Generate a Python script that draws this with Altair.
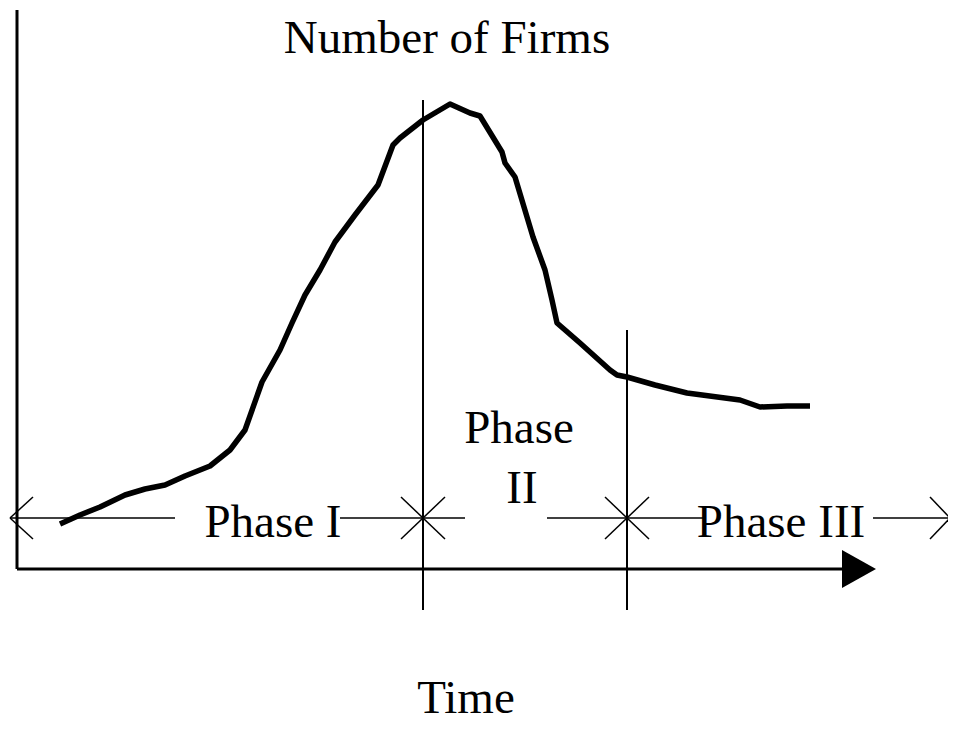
import altair as alt
import pandas as pd

# ---- data (x = time units, y = number-of-firms units) ----
curve_time = [60, 80, 100, 125, 145, 165, 185, 210, 230, 245, 262, 280, 292, 305, 320,
              335, 355, 378, 393, 400, 423, 450, 470, 480, 502, 505, 515, 533, 545, 552,
              557, 580, 610, 617, 627, 655, 687, 740, 760, 787, 810]
curve_firms = [208, 217, 225, 237, 243, 247, 256, 266, 282, 302, 350, 382, 409, 437, 462,
               490, 517, 547, 587, 594, 612, 628, 619, 616, 580, 569, 555, 495, 462, 432,
               409, 389, 362, 357, 355, 347, 339, 332, 325, 326, 326]

# phase boundaries and their vertical extents
boundary_time = [423, 627]
boundary_top = [632, 402]
boundary_bottom = [122, 122]

# axes
axis_origin = (17, 163)
axis_x_end = 845
axis_y_end = 722
arrow_head_time = [842, 876]
arrow_head_upper = [182, 163]
arrow_head_lower = [144, 163]

# phase span line (y level) and its pieces
span_level = 214
span_pieces = [(10, 175), (340, 465), (547, 703), (873, 950)]
span_ends = [10, 950]
arrow_len = 23
arrow_half = 21
cross_half = 22

labels = ["Number of Firms", "Phase", "II", "Phase I", "Phase III", "Time"]
label_time = [447, 519, 522, 273, 781, 466]
label_firms = [679, 289, 229, 195, 195, 19]

# ---- build segment table ----
segs = []
def seg(x1, y1, x2, y2, w):
    segs.append(dict(x=x1, y=y1, x2=x2, y2=y2, w=w))

# axes
seg(axis_origin[0], axis_origin[1], axis_origin[0], axis_y_end, 3)
seg(axis_origin[0], axis_origin[1], axis_x_end, axis_origin[1], 3)
# boundaries
for bt, top, bot in zip(boundary_time, boundary_top, boundary_bottom):
    seg(bt, bot, bt, top, 2)
# span pieces
for a, b in span_pieces:
    seg(a, span_level, b, span_level, 1.5)
# open arrowheads
lft, rgt = span_ends
seg(lft, span_level, lft + arrow_len, span_level + arrow_half, 1.5)
seg(lft, span_level, lft + arrow_len, span_level - arrow_half, 1.5)
seg(rgt, span_level, rgt - arrow_len + 3, span_level + arrow_half, 1.5)
seg(rgt, span_level, rgt - arrow_len + 3, span_level - arrow_half, 1.5)
# crosses at boundaries
for bt in boundary_time:
    seg(bt - cross_half, span_level + cross_half - 1, bt + cross_half, span_level - cross_half + 1, 1.5)
    seg(bt - cross_half, span_level - cross_half + 1, bt + cross_half, span_level + cross_half - 1, 1.5)

seg_df = pd.DataFrame(segs)
curve_df = pd.DataFrame({"t": curve_time, "f": curve_firms, "o": range(len(curve_time))})
head_df = pd.DataFrame({"t": arrow_head_time, "u": arrow_head_upper, "l": arrow_head_lower})
lab_df = pd.DataFrame({"label": labels, "t": label_time, "f": label_firms})

xs = alt.Scale(domain=[8, 948], nice=False, zero=False)
ys = alt.Scale(domain=[8, 724], nice=False, zero=False)

rules = alt.Chart(seg_df).mark_rule(color="black").encode(
    x=alt.X("x:Q", scale=xs, axis=None),
    y=alt.Y("y:Q", scale=ys, axis=None),
    x2="x2:Q",
    y2="y2:Q",
    strokeWidth=alt.StrokeWidth("w:Q", scale=None, legend=None),
)

curve = alt.Chart(curve_df).mark_line(color="black", strokeWidth=5.5, strokeJoin="round").encode(
    x=alt.X("t:Q", scale=xs, axis=None),
    y=alt.Y("f:Q", scale=ys, axis=None),
    order="o:Q",
)

head = alt.Chart(head_df).mark_area(color="black", opacity=1).encode(
    x=alt.X("t:Q", scale=xs, axis=None),
    y=alt.Y("u:Q", scale=ys, axis=None),
    y2="l:Q",
)

text = alt.Chart(lab_df).mark_text(
    font="Liberation Serif", fontSize=47, color="black", align="center", baseline="alphabetic"
).encode(
    x=alt.X("t:Q", scale=xs, axis=None),
    y=alt.Y("f:Q", scale=ys, axis=None),
    text="label:N",
)

chart = alt.layer(rules, curve, head, text).properties(
    width=940, height=716, autosize=alt.AutoSizeParams(type="none"), padding=0,
    background="white",
).configure_view(stroke=None, strokeWidth=0)

chart.save("out.html", embed_options={"renderer": "svg", "actions": False})
